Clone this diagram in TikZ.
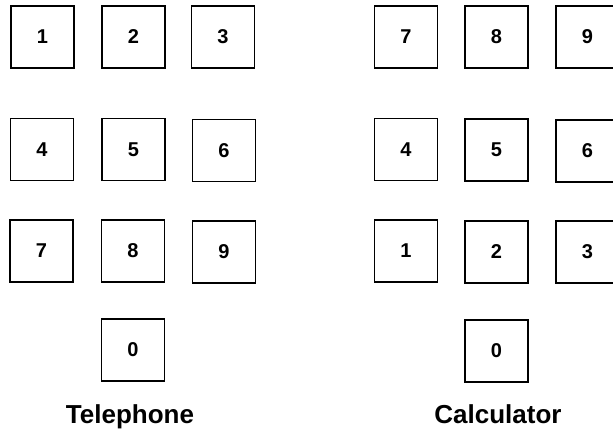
\documentclass[tikz,border=0pt]{standalone}
\usepackage{fontspec}
\setmainfont{Liberation Sans}
\begin{document}
\begin{tikzpicture}[x=1pt,y=-1pt,
  key/.style={draw=black,line width=1.3pt,minimum width=63pt,minimum height=62pt,inner sep=0pt,
    font=\fontsize{20}{24}\selectfont\bfseries},
  caption/.style={anchor=base,font=\fontsize{26}{30}\selectfont\bfseries}]
\useasboundingbox (0,0) rectangle (613,431);
\clip (0,0) rectangle (613,431);
% Telephone keypad
\node[key] (t1) at (42.5,37) {1};
\node[key] (t2) at (133.5,37) {2};
\node[key] (t3) at (223,37) {3};
\node[key] (t4) at (42,149.5) {4};
\node[key] (t5) at (133.5,149.5) {5};
\node[key] (t6) at (224,150.5) {6};
\node[key] (t7) at (41.5,251) {7};
\node[key] (t8) at (133,251) {8};
\node[key] (t9) at (224,252) {9};
\node[key] (t0) at (133,350) {0};
\node[caption] (tl) at (130,423) {Telephone};
% Calculator keypad
\node[key] (c7) at (406,37) {7};
\node[key] (c8) at (496.5,37) {8};
\node[key] (c9) at (587.5,37) {9};
\node[key] (c4) at (406,149.5) {4};
\node[key] (c5) at (496.5,150) {5};
\node[key] (c6) at (587.5,151) {6};
\node[key] (c1) at (406,251) {1};
\node[key] (c2) at (496.5,252) {2};
\node[key] (c3) at (587.5,252) {3};
\node[key] (c0) at (496.5,351) {0};
\node[caption] (cl) at (498,423) {Calculator};
\end{tikzpicture}
\end{document}
